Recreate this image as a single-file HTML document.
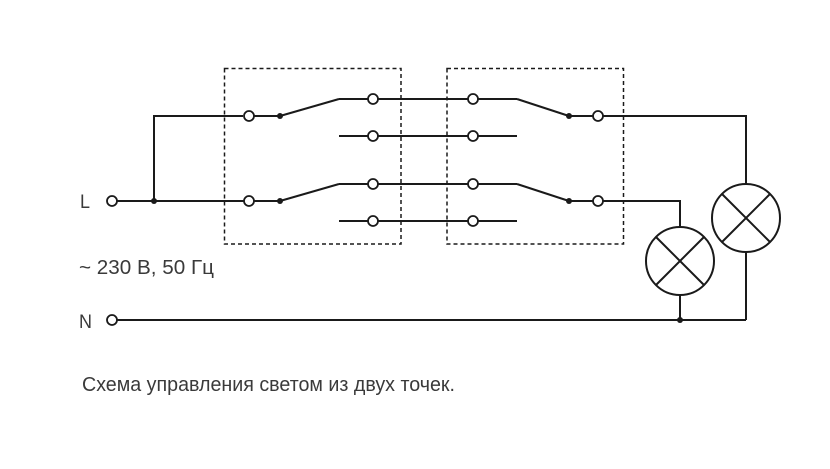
<!DOCTYPE html>
<html><head><meta charset="utf-8"><style>
html,body{margin:0;padding:0;background:#fff;}
svg{display:block;}
text{font-family:"Liberation Sans","DejaVu Sans",sans-serif;fill:#3a3a3a;}
</style></head><body>
<svg width="830" height="469" viewBox="0 0 830 469" xmlns="http://www.w3.org/2000/svg">
<g fill="none" stroke="#1a1a1a" stroke-width="1.5" stroke-dasharray="4,3">
<rect x="224.5" y="68.5" width="176.5" height="175.5"/>
<rect x="447" y="68.5" width="176.5" height="175.5"/>
</g>
<g fill="none" stroke="#1a1a1a" stroke-width="2">
<line x1="117" y1="201" x2="244" y2="201"/>
<polyline points="243,116 154,116 154,201"/>
<line x1="254" y1="116" x2="280" y2="116"/>
<line x1="280" y1="116" x2="339" y2="99"/>
<line x1="339" y1="99" x2="368" y2="99"/>
<line x1="378" y1="99" x2="468" y2="99"/>
<line x1="478" y1="99" x2="517" y2="99"/>
<line x1="517" y1="99" x2="569" y2="116"/>
<line x1="569" y1="116" x2="593" y2="116"/>
<polyline points="603,116 746,116 746,184"/>
<line x1="339" y1="136" x2="368" y2="136"/>
<line x1="378" y1="136" x2="468" y2="136"/>
<line x1="478" y1="136" x2="517" y2="136"/>
<line x1="254" y1="201" x2="280" y2="201"/>
<line x1="280" y1="201" x2="339" y2="184"/>
<line x1="339" y1="184" x2="368" y2="184"/>
<line x1="378" y1="184" x2="468" y2="184"/>
<line x1="478" y1="184" x2="517" y2="184"/>
<line x1="517" y1="184" x2="569" y2="201"/>
<line x1="569" y1="201" x2="593" y2="201"/>
<polyline points="603,201 680,201 680,227"/>
<line x1="339" y1="221" x2="368" y2="221"/>
<line x1="378" y1="221" x2="468" y2="221"/>
<line x1="478" y1="221" x2="517" y2="221"/>
<line x1="117" y1="320" x2="746" y2="320"/>
<line x1="680" y1="295" x2="680" y2="320"/>
<line x1="746" y1="252" x2="746" y2="320"/>
<circle cx="680" cy="261" r="34"/>
<line x1="656" y1="237" x2="704" y2="285"/>
<line x1="704" y1="237" x2="656" y2="285"/>
<circle cx="746" cy="218" r="34"/>
<line x1="722" y1="194" x2="770" y2="242"/>
<line x1="770" y1="194" x2="722" y2="242"/>
</g>
<g fill="#fff" stroke="#1a1a1a" stroke-width="1.8">
<circle cx="112" cy="201" r="5"/>
<circle cx="112" cy="320" r="5"/>
<circle cx="249" cy="116" r="5"/>
<circle cx="249" cy="201" r="5"/>
<circle cx="373" cy="99" r="5"/>
<circle cx="373" cy="136" r="5"/>
<circle cx="373" cy="184" r="5"/>
<circle cx="373" cy="221" r="5"/>
<circle cx="473" cy="99" r="5"/>
<circle cx="473" cy="136" r="5"/>
<circle cx="473" cy="184" r="5"/>
<circle cx="473" cy="221" r="5"/>
<circle cx="598" cy="116" r="5"/>
<circle cx="598" cy="201" r="5"/>
</g>
<g fill="#1a1a1a">
<circle cx="154" cy="201" r="3"/>
<circle cx="280" cy="116" r="3"/>
<circle cx="280" cy="201" r="3"/>
<circle cx="569" cy="116" r="3"/>
<circle cx="569" cy="201" r="3"/>
<circle cx="680" cy="320" r="3"/>
</g>
<text x="80" y="208" font-size="19" textLength="10" lengthAdjust="spacingAndGlyphs">L</text>
<text x="79" y="328" font-size="19" textLength="13" lengthAdjust="spacingAndGlyphs">N</text>
<text x="79" y="274" font-size="20" textLength="135" lengthAdjust="spacingAndGlyphs">~ 230 В, 50 Гц</text>
<text x="82" y="391" font-size="20" textLength="373" lengthAdjust="spacingAndGlyphs">Схема управления светом из двух точек.</text>
</svg>
</body></html>
